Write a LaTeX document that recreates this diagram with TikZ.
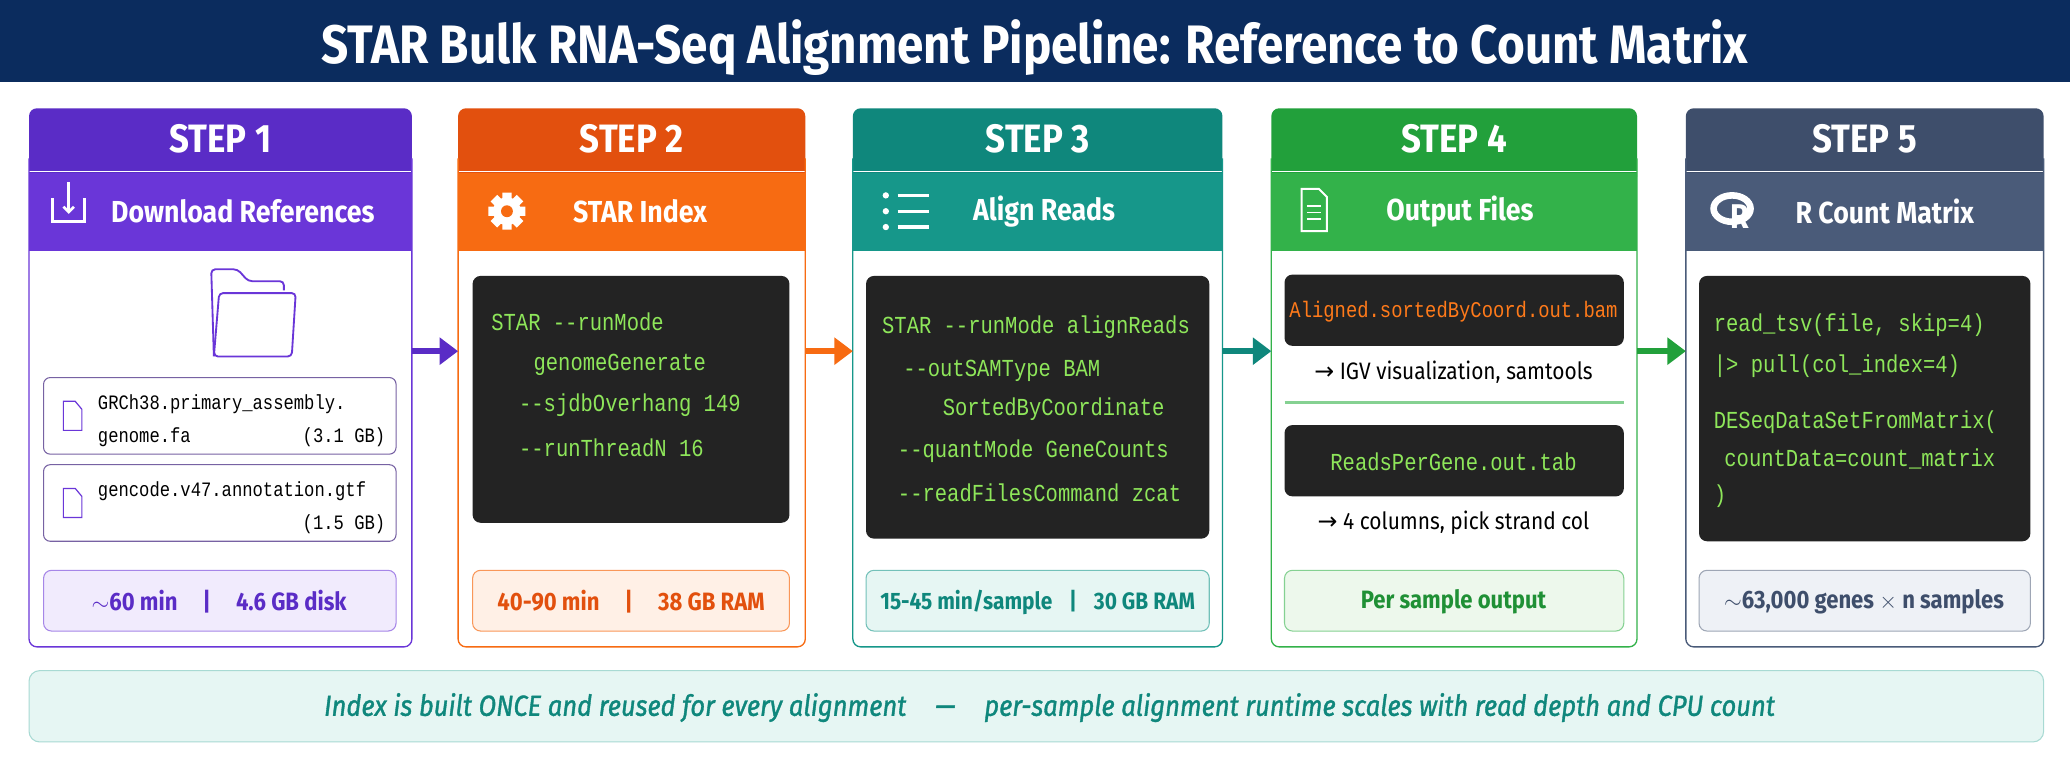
\documentclass[tikz,border=0pt]{standalone}
\usepackage{fontspec}
\usetikzlibrary{arrows.meta}
\setmainfont[FakeStretch=0.88]{Fira Sans}
\setmonofont[FakeStretch=0.84]{Liberation Mono}
\newfontfamily\arrowfont{DejaVu Sans}
\begin{document}
\definecolor{navy}{HTML}{0B2C5E}
\definecolor{pA}{HTML}{5A2CC6}\definecolor{pB}{HTML}{6A36D8}\definecolor{pL}{HTML}{F1EBFD}
\definecolor{oA}{HTML}{E2500E}\definecolor{oB}{HTML}{F76B12}\definecolor{oL}{HTML}{FFF0E6}
\definecolor{tA}{HTML}{0F877C}\definecolor{tB}{HTML}{16978A}\definecolor{tL}{HTML}{E6F6F3}
\definecolor{gA}{HTML}{22A03B}\definecolor{gB}{HTML}{33B24A}\definecolor{gL}{HTML}{EDF8EC}
\definecolor{sA}{HTML}{3E4E6B}\definecolor{sB}{HTML}{4A5B79}\definecolor{sL}{HTML}{EEF1F6}
\definecolor{codebg}{HTML}{232323}\definecolor{codeg}{HTML}{8EE65A}\definecolor{codeo}{HTML}{FF7A1A}
\begin{tikzpicture}[x=1pt,y=-1pt,
  code/.style={font=\ttfamily\fontsize{18.5}{18}\selectfont, text=codeg, anchor=west, inner sep=0},
  stats/.style={rounded corners=6pt, line width=0.8pt},
  st/.style={font=\bfseries\fontsize{19}{19}\selectfont, inner sep=0},
  head/.style={font=\bfseries\fontsize{30}{30}\selectfont, text=white, inner sep=0},
  sub/.style={font=\bfseries\fontsize{23}{23}\selectfont, text=white, inner sep=0, anchor=west},
  arr/.style={line width=5pt, -{Triangle[length=14pt,width=20pt]}},
  icon/.style={white, line width=2pt}]
\useasboundingbox (0,0) rectangle (1568,576);
\fill[white] (0,0) rectangle (1568,576);
\fill[navy] (0,0) rectangle (1568,62);
\node[font=\bfseries\fontsize{41}{41}\selectfont, text=white] (title) at (784,36) {STAR Bulk RNA-Seq Alignment Pipeline: Reference to Count Matrix};

\newcommand{\col}[7]{%
  \fill[#3, rounded corners=6pt] (#1,82) rectangle (#2,140);
  \fill[#4] (#1,131) rectangle (#2,190);
  \draw[white, line width=1.2pt] (#1,130) -- (#2,130);
  \draw[#4, line width=1pt, rounded corners=6pt] (#1,120) -- (#1,490) -- (#2,490) -- (#2,120);
  \node[head] (#5h) at ({(#1+#2)/2},105) {STEP #6};
}
\col{22}{312}{pA}{pB}{s1}{1}{}
\col{347}{610}{oA}{oB}{s2}{2}{}
\col{646}{926}{tA}{tB}{s3}{3}{}
\col{963}{1240}{gA}{gB}{s4}{4}{}
\col{1277}{1548}{sA}{sB}{s5}{5}{}

\node[sub] (t1) at (84,160) {Download References};
\draw[icon] (40,150) -- (40,168) -- (64,168) -- (64,150);
\draw[icon,-{Straight Barb[length=4pt]}] (52,138) -- (52,162);
\node[sub] (t2) at (434,160) {STAR Index};
\foreach \a in {0,45,...,315} \fill[white] (384,160) ++(\a:8) -- ++(\a+90:3.5) -- ++(\a:6) -- ++(\a-90:7) -- ++(\a+180:6) -- cycle;
\fill[white] (384,160) circle (10.5); \fill[oB] (384,160) circle (4.5);
\node[sub] (t3) at (737,160) {Align Reads};
\foreach \yy in {148,160,172} {\fill[white] (671,\yy) circle (2.4); \draw[white,line width=2.5pt] (680,\yy) -- (704,\yy);}
\node[sub] (t4) at (1050,160) {Output Files};
\draw[white,line width=1.5pt] (986,143) -- (999,143) -- (1005,149) -- (1005,175) -- (986,175) -- cycle;
\foreach \yy in {156,161,166} \draw[white,line width=1pt] (990,\yy) -- (1001,\yy);
\node[sub] (t5) at (1360,160) {R Count Matrix};
\draw[white, line width=5pt] (1312,158) ellipse (14 and 10);
\node[font=\bfseries\fontsize{26}{26}\selectfont, text=white, inner sep=0] (rlogo) at (1318,164) {R};

\draw[pB, line width=1.4pt, rounded corners=3pt] (162,270) -- (160,204) -- (180,204) -- (188,213) -- (215,213) -- (215,220);
\draw[pB, line width=1.4pt, rounded corners=3pt] (162,270) -- (166,222) -- (224,222) -- (221,270) -- cycle;
\foreach \yt/\a/\b/\c in {286/GRCh38.primary\_assembly./genome.fa/(3.1 GB), 352/gencode.v47.annotation.gtf//(1.5 GB)} {
  \draw[gray!60!pB, line width=0.8pt, rounded corners=5pt] (33,\yt) rectangle (300,\yt+58);
  \draw[pB, line width=0.9pt] (48,\yt+18) -- (57,\yt+18) -- (62,\yt+24) -- (62,\yt+40) -- (48,\yt+40) -- cycle;
  \node[font=\ttfamily\fontsize{15.5}{15}\selectfont, anchor=west, inner sep=0] at (74,\yt+20) {\a};
  \node[font=\ttfamily\fontsize{15.5}{15}\selectfont, anchor=west, inner sep=0] at (74,\yt+45) {\b};
  \node[font=\ttfamily\fontsize{15.5}{15}\selectfont, anchor=east, inner sep=0] at (292,\yt+45) {\c};
}
\draw[stats, draw=pB!60, fill=pL] (33,432) rectangle (300,478);
\node[st, text=pA] (st1) at (166,456) {$\sim$60 min\quad|\quad4.6 GB disk};

\fill[codebg, rounded corners=6pt] (358,209) rectangle (598,396);
\node[code] at (372,244) {STAR --runMode};
\node[code] at (404,276) {genomeGenerate};
\node[code] at (393,307) {--sjdbOverhang 149};
\node[code] at (393,339) {--runThreadN 16};
\draw[stats, draw=oB!70, fill=oL] (358,432) rectangle (598,478);
\node[st, text=oA] (st2) at (478,456) {40-90 min\quad|\quad38 GB RAM};

\fill[codebg, rounded corners=6pt] (656,209) rectangle (916,408);
\node[code] at (668,248) {STAR --runMode alignReads};
\node[code] at (684,281) {--outSAMType BAM};
\node[code] at (714,310) {SortedByCoordinate};
\node[code] at (680,342) {--quantMode GeneCounts};
\node[code] at (680,373) {--readFilesCommand zcat};
\draw[stats, draw=tB!60, fill=tL] (656,432) rectangle (916,478);
\node[st, text=tA, font=\bfseries\fontsize{18}{18}\selectfont] (st3) at (786,456) {15-45 min/sample\enspace\ |\ \enspace30 GB RAM};

\fill[codebg, rounded corners=6pt] (973,208) rectangle (1230,262);
\node[code, text=codeo, anchor=center, font=\ttfamily\fontsize{17}{16}\selectfont] at (1101,236) {Aligned.sortedByCoord.out.bam};
\node[font=\fontsize{18}{18}\selectfont, inner sep=0] at (1101,282) {{\arrowfont→} IGV visualization, samtools};
\draw[gB!60, line width=2pt] (973,305) -- (1230,305);
\fill[codebg, rounded corners=6pt] (973,322) rectangle (1230,376);
\node[code, anchor=center] at (1101,350) {ReadsPerGene.out.tab};
\node[font=\fontsize{18}{18}\selectfont, inner sep=0] at (1101,396) {{\arrowfont→} 4 columns, pick strand col};
\draw[stats, draw=gB!60, fill=gL] (973,432) rectangle (1230,478);
\node[st, text=gA!90!black] (st4) at (1101,456) {Per sample output};

\fill[codebg, rounded corners=6pt] (1287,209) rectangle (1538,410);
\node[code] at (1298,246) {read\_tsv(file, skip=4)};
\node[code] at (1298,277) {|> pull(col\_index=4)};
\node[code] at (1298,320) {DESeqDataSetFromMatrix(};
\node[code] at (1306,348) {countData=count\_matrix};
\node[code] at (1298,376) {)};
\draw[stats, draw=sA!50, fill=sL] (1287,432) rectangle (1538,478);
\node[st, text=sA] (st5) at (1412,456) {$\sim$63,000 genes $\times$ n samples};

\coordinate (a1) at (312,266); \coordinate (b1) at (347,266);
\coordinate (a2) at (610,266); \coordinate (b2) at (646,266);
\coordinate (a3) at (926,266); \coordinate (b3) at (963,266);
\coordinate (a4) at (1240,266); \coordinate (b4) at (1277,266);
\draw[arr, pA] (a1) -- (b1);
\draw[arr, oB] (a2) -- (b2);
\draw[arr, tA] (a3) -- (b3);
\draw[arr, gA] (a4) -- (b4);

\draw[tL!70!tB, fill=tL, rounded corners=8pt, line width=0.8pt] (22,508) rectangle (1548,562);
\node[font=\itshape\fontsize{22}{22}\selectfont, text=tA, inner sep=0] (note) at (795,536) {\addfontfeature{FakeBold=1.2}Index is built ONCE and reused for every alignment\quad —\quad per-sample alignment runtime scales with read depth and CPU count};
\end{tikzpicture}
\end{document}
